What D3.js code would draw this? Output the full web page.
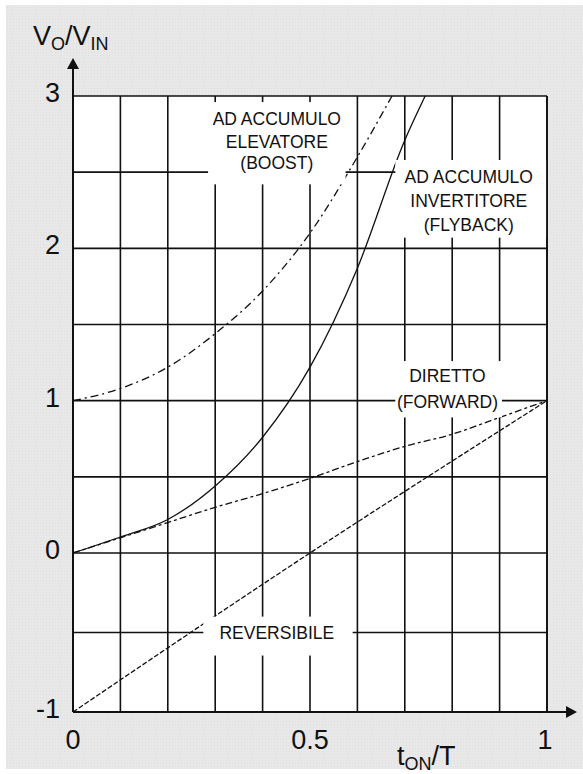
<!DOCTYPE html>
<html>
<head>
<meta charset="utf-8">
<script src="https://cdn.jsdelivr.net/npm/d3@7"></script>
<style>
  html, body { margin: 0; padding: 0; background: #fff; }
  svg { display: block; }
  text { font-family: "Liberation Sans", Arial, sans-serif; fill: #111; }
</style>
</head>
<body>
<div id="chart"></div>
<script>
// Data (duty cycle tON/T -> VO/VIN)
const boostX = [0, 0.1, 0.2, 0.3, 0.4, 0.5, 0.6, 0.673];
const boostY = [1, 1.08, 1.22, 1.44, 1.72, 2.1, 2.6, 3];

const flybackX = [0, 0.1, 0.2, 0.3, 0.4, 0.5, 0.6, 0.7, 0.743];
const flybackY = [0, 0.105, 0.22, 0.44, 0.76, 1.22, 1.87, 2.71, 3];

const forwardX = [0, 0.1, 0.2, 0.3, 0.4, 0.5, 0.6, 0.7, 0.8, 0.9, 1];
const forwardY = [0, 0.1, 0.2, 0.3, 0.39, 0.49, 0.6, 0.7, 0.78, 0.89, 1];

const reversibleX = [0, 0.5, 1];
const reversibleY = [-1, 0, 1];

const xTicks = [0, 0.5, 1];
const xTickLabels = ['0', '0.5', '1'];
const yTicks = [3, 2, 1, 0, -1];
const yTickLabels = ['3', '2', '1', '0', '-1'];

const labels = [
  { lines: ['AD ACCUMULO', 'ELEVATORE', '(BOOST)'], x: 0.43, y: [2.85, 2.7, 2.56] },
  { lines: ['AD ACCUMULO', 'INVERTITORE', '(FLYBACK)'], x: 0.835, y: [2.47, 2.31, 2.15] },
  { lines: ['DIRETTO', '(FORWARD)'], x: 0.79, y: [1.16, 0.99] },
  { lines: ['REVERSIBILE'], x: 0.43, y: [-0.5] }
];

// label boxes that blank out the grid, in data units [x0, x1, yTop, yBottom]
const boxes = [
  [0.285, 0.575, 2.96, 2.42],
  [0.68, 1, 2.58, 2.07],
  [0.68, 0.905, 1.26, 0.89],
  [0.275, 0.59, -0.4, -0.645]
];

const W = 583;
const H = 774;

const svg = d3.select('#chart').append('svg')
  .attr('width', W)
  .attr('height', H);

// gray panel with a faint dot texture
const defs = svg.append('defs');
const pat = defs.append('pattern')
  .attr('id', 'dots')
  .attr('width', 3)
  .attr('height', 3)
  .attr('patternUnits', 'userSpaceOnUse');
pat.append('rect').attr('width', 3).attr('height', 3).attr('fill', '#e8e8e8');
pat.append('rect').attr('x', 1).attr('y', 1).attr('width', 1).attr('height', 1).attr('fill', '#dedede');

svg.append('rect')
  .attr('x', 6).attr('y', 5)
  .attr('width', W - 6).attr('height', 764)
  .attr('fill', 'url(#dots)');

const x = d3.scaleLinear().domain([0, 1]).range([73, 547]);
// the original grid is slightly stretched below zero
const y = d3.scaleLinear().domain([-1, 0, 3]).range([712, 553, 96]);

defs.append('clipPath').attr('id', 'plot')
  .append('rect')
  .attr('x', x(0)).attr('y', y(3))
  .attr('width', x(1) - x(0)).attr('height', y(-1) - y(3));

// plot area
svg.append('rect')
  .attr('x', x(0)).attr('y', y(3))
  .attr('width', x(1) - x(0)).attr('height', y(-1) - y(3))
  .attr('fill', '#fff');

// grid
const grid = svg.append('g').attr('stroke', '#111').attr('stroke-width', 1.6);
grid.selectAll('line.v')
  .data(d3.range(0, 11).map(i => i / 10))
  .enter()
  .append('line')
  .attr('class', 'v')
  .attr('x1', d => x(d)).attr('x2', d => x(d))
  .attr('y1', y(3)).attr('y2', y(-1));
grid.selectAll('line.h')
  .data(d3.range(-2, 7).map(i => i / 2))
  .enter()
  .append('line')
  .attr('class', 'h')
  .attr('x1', x(0)).attr('x2', x(1))
  .attr('y1', d => y(d)).attr('y2', d => y(d));

// curves
const line = d3.line()
  .x(d => x(d[0]))
  .y(d => y(d[1]))
  .curve(d3.curveMonotoneX);

const series = [
  { xs: boostX, ys: boostY, dash: '8,4,2,4' },
  { xs: flybackX, ys: flybackY, dash: null },
  { xs: forwardX, ys: forwardY, dash: '7,3,3,3' },
  { xs: reversibleX, ys: reversibleY, dash: '5,2' }
];

svg.append('g')
  .attr('clip-path', 'url(#plot)')
  .selectAll('path')
  .data(series)
  .enter()
  .append('path')
  .attr('d', s => line(d3.zip(s.xs, s.ys)))
  .attr('fill', 'none')
  .attr('stroke', '#111')
  .attr('stroke-width', 1.3)
  .attr('stroke-dasharray', s => s.dash);

// white boxes behind the curve labels
svg.append('g')
  .selectAll('rect')
  .data(boxes)
  .enter()
  .append('rect')
  .attr('x', d => x(d[0]))
  .attr('y', d => y(d[2]))
  .attr('width', d => x(d[1]) - x(d[0]))
  .attr('height', d => y(d[3]) - y(d[2]))
  .attr('fill', '#fff');

// redraw the right border where the flyback box touches it
svg.append('line')
  .attr('x1', x(1)).attr('x2', x(1))
  .attr('y1', y(3)).attr('y2', y(-1))
  .attr('stroke', '#111').attr('stroke-width', 1.8);

labels.forEach((l) => {
  l.lines.forEach((t, i) => {
    svg.append('text')
      .attr('x', x(l.x))
      .attr('y', y(l.y[i]))
      .attr('text-anchor', 'middle')
      .attr('dominant-baseline', 'central')
      .style('font-size', '17.5px')
      .text(t);
  });
});

// axes with arrows
svg.append('line')
  .attr('x1', x(0)).attr('x2', x(0))
  .attr('y1', y(-1)).attr('y2', 66)
  .attr('stroke', '#111').attr('stroke-width', 2);
svg.append('line')
  .attr('x1', x(0)).attr('x2', 568)
  .attr('y1', y(-1)).attr('y2', y(-1))
  .attr('stroke', '#111').attr('stroke-width', 2);
svg.append('path')
  .attr('d', `M${x(0)},58 L${x(0) - 6},69 L${x(0) + 6},69 Z`)
  .attr('fill', '#111');
svg.append('path')
  .attr('d', `M577,${y(-1)} L566,${y(-1) - 6} L566,${y(-1) + 6} Z`)
  .attr('fill', '#111');

// tick labels
svg.selectAll('text.ytick')
  .data(yTicks)
  .enter()
  .append('text')
  .attr('class', 'ytick')
  .attr('x', 60)
  .attr('y', d => y(d) - 3)
  .attr('text-anchor', 'end')
  .attr('dominant-baseline', 'central')
  .style('font-size', '27px')
  .text((d, i) => yTickLabels[i]);

svg.selectAll('text.xtick')
  .data(xTicks)
  .enter()
  .append('text')
  .attr('class', 'xtick')
  .attr('x', (d, i) => (i === 2 ? x(d) - 2 : x(d)))
  .attr('y', 749)
  .attr('text-anchor', 'middle')
  .style('font-size', '27px')
  .text((d, i) => xTickLabels[i]);

// axis titles
const yTitle = svg.append('text').attr('x', 33).attr('y', 45).style('font-size', '27px');
yTitle.append('tspan').text('V');
yTitle.append('tspan').attr('dy', 5).style('font-size', '18px').text('O');
yTitle.append('tspan').attr('dy', -5).text('/V');
yTitle.append('tspan').attr('dy', 5).style('font-size', '18px').text('IN');

const xTitle = svg.append('text').attr('x', 397).attr('y', 765).style('font-size', '27px');
xTitle.append('tspan').text('t');
xTitle.append('tspan').attr('dy', 5).style('font-size', '18px').text('ON');
xTitle.append('tspan').attr('dy', -5).text('/T');
</script>
</body>
</html>
